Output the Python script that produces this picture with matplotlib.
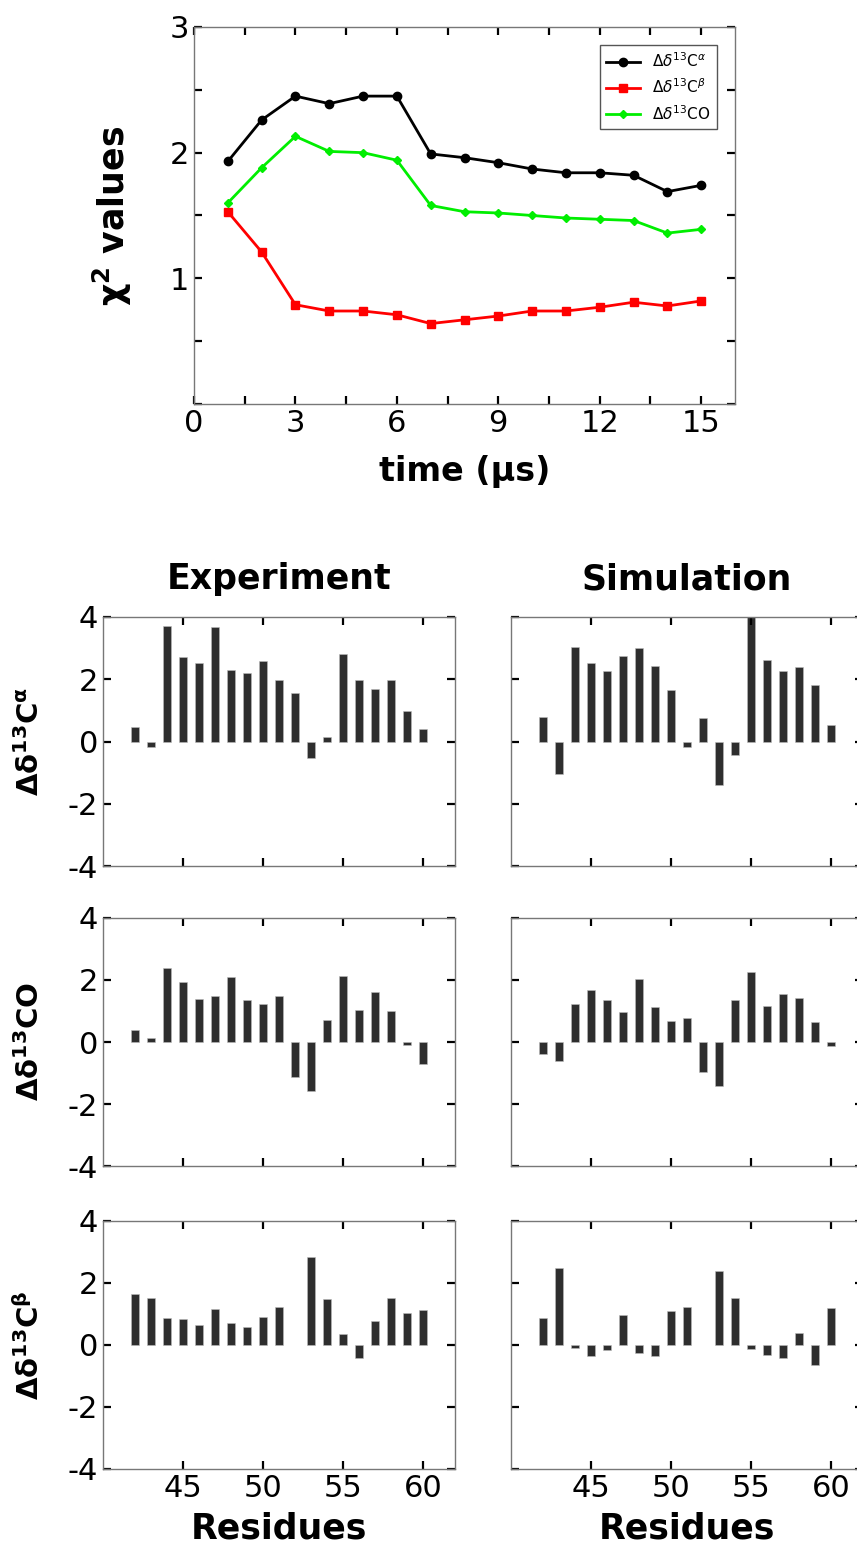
import numpy as np
import matplotlib
matplotlib.use("Agg")
import matplotlib.pyplot as plt
from matplotlib.ticker import MultipleLocator

plt.rcParams["axes.unicode_minus"] = False

# chi^2 vs time
time_us = np.arange(1, 16)
chi_ca = [1.93, 2.26, 2.45, 2.39, 2.45, 2.45, 1.99, 1.96, 1.92, 1.87, 1.84, 1.84, 1.82, 1.69, 1.74]
chi_cb = [1.53, 1.21, 0.79, 0.74, 0.74, 0.71, 0.64, 0.67, 0.70, 0.74, 0.74, 0.77, 0.81, 0.78, 0.82]
chi_co = [1.60, 1.88, 2.13, 2.01, 2.00, 1.94, 1.58, 1.53, 1.52, 1.50, 1.48, 1.47, 1.46, 1.36, 1.39]

# secondary chemical shifts per residue
residues = np.arange(42, 61)
exp_ca = [0.45, -0.18, 3.72, 2.71, 2.53, 3.69, 2.31, 2.20, 2.60, 1.96, 1.55, -0.54, 0.13, 2.82, 1.96, 1.69, 1.98, 0.98, 0.39]
sim_ca = [0.80, -1.05, 3.05, 2.52, 2.25, 2.74, 3.00, 2.44, 1.65, -0.17, 0.75, -1.41, -0.44, 4.10, 2.62, 2.27, 2.39, 1.80, 0.53]
exp_co = [0.40, 0.12, 2.39, 1.94, 1.39, 1.48, 2.10, 1.37, 1.23, 1.48, -1.14, -1.59, 0.71, 2.14, 1.03, 1.60, 1.01, -0.09, -0.71]
sim_co = [-0.39, -0.60, 1.22, 1.68, 1.35, 0.98, 2.02, 1.14, 0.69, 0.78, -0.97, -1.41, 1.37, 2.26, 1.17, 1.56, 1.43, 0.63, -0.13]
exp_cb = [1.65, 1.53, 0.86, 0.83, 0.63, 1.16, 0.72, 0.59, 0.89, 1.24, np.nan, 2.83, 1.48, 0.34, -0.41, 0.77, 1.51, 1.04, 1.12]
sim_cb = [0.88, 2.47, -0.09, -0.37, -0.16, 0.97, -0.27, -0.34, 1.09, 1.24, np.nan, 2.40, 1.53, -0.13, -0.32, -0.41, 0.39, -0.65, 1.19]

row_labels = [r"$\mathbf{\Delta\delta^{13}C^{\alpha}}$", r"$\mathbf{\Delta\delta^{13}CO}$", r"$\mathbf{\Delta\delta^{13}C^{\beta}}$"]

W, H = 857, 1546
fig = plt.figure(figsize=(W / 100, H / 100), dpi=100)

def box(x0, y0, x1, y1):
    return [x0 / W, 1 - y1 / H, (x1 - x0) / W, (y1 - y0) / H]

def style(ax):
    for s in ax.spines.values():
        s.set_color("#777777")
        s.set_linewidth(1.0)
    ax.tick_params(which="both", direction="in", length=6, width=1.6, color="black",
                   top=True, right=True, labelsize=22)

# ---- top panel
ax = fig.add_axes(box(194, 27, 735, 404))
ax.plot(time_us, chi_ca, "-o", color="black", lw=2, ms=6, label=r"$\Delta\delta^{13}$C$^{\alpha}$")
ax.plot(time_us, chi_cb, "-s", color="red", lw=2, ms=6, label=r"$\Delta\delta^{13}$C$^{\beta}$")
ax.plot(time_us, chi_co, "-D", color="#00ee00", lw=2, ms=4.5, label=r"$\Delta\delta^{13}$CO")
ax.set_xlim(0, 16)
ax.set_ylim(0, 3)
ax.set_xticks([0, 3, 6, 9, 12, 15])
ax.xaxis.set_minor_locator(MultipleLocator(1.5))
ax.set_yticks([0, 1, 2, 3])
ax.set_yticklabels(["", "1", "2", "3"])
ax.yaxis.set_minor_locator(MultipleLocator(0.5))
style(ax)
ax.set_xlabel("time (μs)", fontsize=24, fontweight="bold", labelpad=12)
ax.set_ylabel(r"$\mathbf{\chi^2}$ values", fontsize=25, fontweight="bold", labelpad=26)
leg = ax.legend(loc="upper right", fontsize=11, fancybox=False, framealpha=1,
                edgecolor="#555555", handlelength=2.2, borderaxespad=1.2)

# ---- bar panels
rows = [(617, 866), (918, 1166), (1221, 1469)]
cols = [(103, 455), (511, 863)]
data = [[exp_ca, sim_ca], [exp_co, sim_co], [exp_cb, sim_cb]]

for i, (y0, y1) in enumerate(rows):
    for j, (x0, x1) in enumerate(cols):
        a = fig.add_axes(box(x0, y0, x1, y1))
        a.bar(residues, data[i][j], width=0.45, color="#2e2e2e", edgecolor="#bbbbbb", linewidth=0.4)
        a.set_xlim(40, 62)
        a.set_ylim(-4, 4)
        a.set_xticks([45, 50, 55, 60])
        a.set_yticks([-4, -2, 0, 2, 4])
        style(a)
        if i < 2:
            a.tick_params(labelbottom=False)
        else:
            a.set_xlabel("Residues", fontsize=25, fontweight="bold", labelpad=6)
        if j == 1:
            a.tick_params(labelleft=False)
        else:
            a.set_ylabel(row_labels[i], fontsize=21)
            a.yaxis.set_label_coords(-0.165, 0.5)
        if i == 0:
            a.set_title(["Experiment", "Simulation"][j], fontsize=25, fontweight="bold", pad=20)

fig.savefig("out.png", dpi=100)
